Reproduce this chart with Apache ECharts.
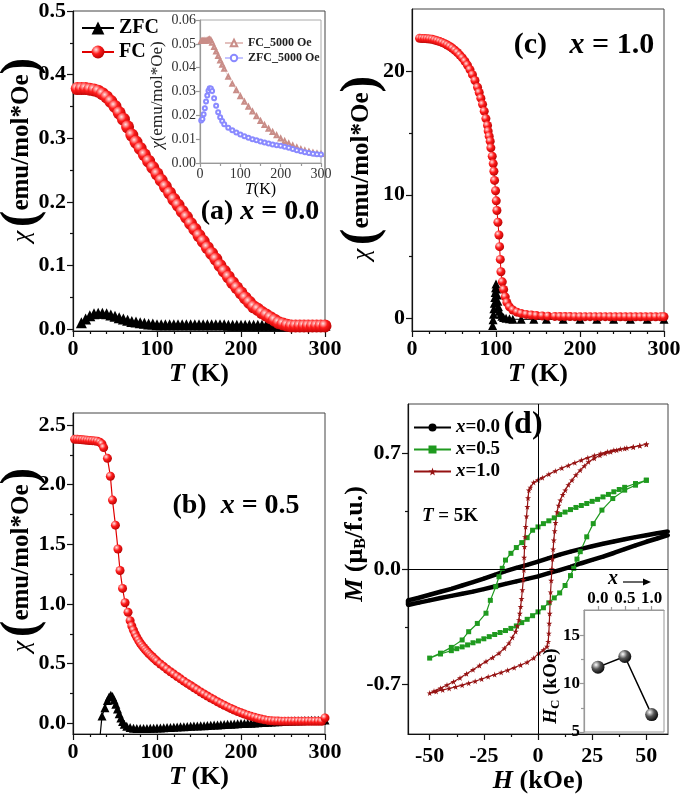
<!DOCTYPE html>
<html>
<head>
<meta charset="utf-8">
<script src="https://cdn.jsdelivr.net/npm/echarts@6.0.0/dist/echarts.min.js"></script>
<style>
  html, body { margin: 0; padding: 0; background: #fff; }
  #main { width: 685px; height: 795px; }
</style>
</head>
<body>
<div id="main"></div>
<script>
// ---- data ----
// (a) x = 0.0
const aT = [5,10,15,20,25,30,35,40,45,50,55,60,65,70,75,80,85,90,95,100,105,110,115,120,125,130,135,140,145,150,
            155,160,165,170,175,180,185,190,195,200,205,210,215,220,225,230,235,240,245,250,255,260,265,270,275,280,285,290,295,300];
const aFC = [0.378,0.378,0.378,0.377,0.376,0.374,0.370,0.365,0.358,0.350,0.340,0.330,0.318,0.305,0.294,0.284,0.274,0.264,0.254,0.244,
             0.234,0.224,0.214,0.204,0.195,0.185,0.176,0.166,0.157,0.147,0.138,0.128,0.119,0.110,0.100,0.091,0.082,0.073,0.065,0.057,
             0.049,0.042,0.035,0.031,0.026,0.022,0.018,0.014,0.010,0.008,0.006,0.005,0.005,0.005,0.005,0.005,0.005,0.005,0.005,0.005];
const aZT = aT.slice(1);
const aZFC = [0.010,0.016,0.021,0.024,0.025,0.025,0.024,0.022,0.020,0.018,0.016,0.014,0.012,0.011,0.010,0.009,0.008,0.008,0.007,0.007,
              0.007,0.007,0.007,0.007,0.007,0.007,0.007,0.007,0.007,0.007,0.007,0.007,0.007,0.007,0.007,0.006,0.006,0.006,0.006,0.006,
              0.006,0.006,0.006,0.006,0.006,0.006,0.006,0.006,0.006,0.006,0.006,0.006,0.006,0.006,0.006,0.006,0.006,0.006,0.006];

// (a) inset, 5000 Oe
const inT = [3,6,9,12,15,18,21,24,27,30,35,40,45,50,55,60,70,80,90,100,110,120,130,140,150,160,170,180,190,200,
             210,220,230,240,250,260,270,280,290,300];
const inFC = [0.0512,0.0512,0.0512,0.0513,0.0513,0.0514,0.0516,0.0518,0.0515,0.0505,0.0487,0.0468,0.0449,0.0430,0.0412,0.0395,
              0.0362,0.0332,0.0305,0.0280,0.0257,0.0236,0.0216,0.0196,0.0176,0.0159,0.0144,0.0130,0.0116,0.0103,
              0.0092,0.0082,0.0073,0.0065,0.0058,0.0052,0.0047,0.0043,0.0040,0.0038];
const inZFC = [0.0178,0.0185,0.0205,0.0230,0.0258,0.0283,0.0303,0.0314,0.0313,0.0302,0.0272,0.0240,0.0213,0.0192,0.0176,0.0163,
               0.0148,0.0137,0.0128,0.0120,0.0112,0.0106,0.0100,0.0095,0.0090,0.0086,0.0082,0.0078,0.0075,0.0072,
               0.0068,0.0064,0.0059,0.0054,0.0049,0.0045,0.0042,0.0039,0.0037,0.0036];

// (b) x = 0.5
const bFcT = [2,5,8,11,14,17,20,23,26,29,32,34.5,36.5,41,44.5,47,50.5,53.5,56,59,62,65.5,68,
              70,72,74,76,78,80,82,84,86,88,90,92,94,96,98,100,
              104,108,112,116,120,124,128,132,136,140,144,148,152,156,160,164,168,172,176,180,184,188,192,196,200,
              204,208,212,216,220,224,228,232,236,240,244,248,252,256,260,264,268,272,276,280,284,288,292,296,300];
const bFc = [2.38,2.38,2.378,2.376,2.374,2.372,2.37,2.368,2.366,2.363,2.355,2.34,2.31,2.22,2.07,1.87,1.66,1.46,1.28,1.13,1.01,0.93,0.86,
             0.815,0.78,0.748,0.72,0.695,0.673,0.653,0.635,0.618,0.602,0.587,0.573,0.559,0.546,0.533,0.52,
             0.497,0.475,0.453,0.432,0.412,0.392,0.372,0.353,0.334,0.316,0.298,0.28,0.262,0.245,0.228,0.212,0.196,0.18,0.165,0.151,
             0.137,0.124,0.111,0.099,0.088,0.077,0.067,0.058,0.05,0.042,0.035,0.029,0.024,0.021,0.019,0.018,0.017,0.017,0.017,0.017,
             0.017,0.017,0.017,0.017,0.017,0.017,0.017,0.017,0.017,0.045];
const bZT = [31,34.5,38,41,43,45,47,49,51,53,55,57,59,61,
             64,68,72,76,80,84,88,92,96,100,104,108,112,116,120,124,128,132,136,140,144,148,152,156,160,164,168,172,176,180,
             184,188,192,196,200,204,208,212,216,220,224,228,232,236,240,244,248,252,256,260,264,268,272,276,280,284,288,292,296,300];
const bZ = [-0.2,0.06,0.13,0.19,0.22,0.235,0.225,0.195,0.16,0.12,0.08,0.045,0.015,-0.008,
            -0.025,-0.036,-0.041,-0.043,-0.044,-0.044,-0.043,-0.042,-0.041,-0.04,-0.039,-0.037,-0.036,-0.035,-0.033,-0.032,-0.03,-0.029,-0.027,-0.026,
            -0.024,-0.023,-0.021,-0.02,-0.018,-0.017,-0.015,-0.014,-0.012,-0.011,-0.009,-0.008,-0.006,-0.005,-0.003,-0.002,0,0.001,0.003,0.004,
            0.006,0.007,0.009,0.01,0.012,0.013,0.015,0.016,0.018,0.019,0.02,0.021,0.022,0.023,0.024,0.025,0.025,0.026,0.026,0.027];

// (c) x = 1.0
const cFcT = [9,12,15,18,21,24,27,30,33,36,39,42,45,48,51,54,57,60,63,66,69,72,75,78,80,82,84,86,88,
              89.9,90.7,91.9,93.1,93.9,95.5,96.7,97.5,98.3,99.5,100.3,101.1,102.3,103.5,104.3,105.1,105.9,107.5,109.1,111,113,116,120,125,130,136,142,148,155,162,170,
              176,182,188,194,200,206,212,218,224,230,236,242,248,254,260,266,272,278,284,290,296,300];
const cFc = [22.63,22.62,22.61,22.6,22.58,22.55,22.5,22.44,22.37,22.29,22.2,22.09,21.97,21.83,21.67,21.49,21.28,21.05,20.78,20.47,20.11,19.7,19.23,18.68,
             18.26,17.8,17.3,16.75,16.15,
             15.6,15.14,14.73,14.33,13.79,13.11,12.52,11.9,11.16,10.32,9.51,8.73,7.78,6.75,5.81,4.78,3.78,2.97,2.35,1.76,1.3,0.95,0.7,0.52,0.42,0.34,0.29,0.25,0.22,0.2,0.18,
             0.17,0.17,0.17,0.16,0.16,0.16,0.16,0.16,0.16,0.16,0.15,0.15,0.15,0.15,0.15,0.15,0.15,0.15,0.15,0.15,0.15,0.15];
const cZT = [96,96.5,97,97.5,98,98.5,99,99.5,100,100.8,101.5,102.2,103,104,105.5,107,109,112,116,120,130,145,160,180,200,220,240,260,280,300];
const cZ = [-0.55,-0.1,0.35,0.8,1.25,1.7,2.1,2.5,2.8,2.4,1.9,1.4,0.95,0.6,0.35,0.2,0.1,0.03,-0.02,-0.05,-0.06,-0.06,-0.06,-0.06,-0.06,-0.06,-0.06,-0.06,-0.06,-0.06];

// (d) M(H) loops at 5 K, [H kOe, M muB/f.u.]
const loop00 = [[60,0.228],[55,0.217],[50,0.205],[45,0.193],[40,0.18],[35,0.167],[30,0.153],[25,0.138],[20,0.122],[15,0.105],[10,0.087],[5,0.066],
  [0,0.045],[-5,0.025],[-10,0.007],[-15,-0.013],[-20,-0.035],[-25,-0.058],[-30,-0.08],[-35,-0.1],[-40,-0.12],[-45,-0.138],[-50,-0.156],[-55,-0.174],[-60,-0.19],
  [-60,-0.218],[-55,-0.204],[-50,-0.19],[-45,-0.176],[-40,-0.163],[-35,-0.15],[-30,-0.137],[-25,-0.122],[-20,-0.106],[-15,-0.09],[-10,-0.075],[-5,-0.06],
  [0,-0.045],[5,-0.025],[10,-0.007],[15,0.013],[20,0.035],[25,0.055],[30,0.075],[35,0.097],[40,0.12],[45,0.143],[50,0.165],[55,0.185],[60,0.205]];
const loop05 = [[50,0.538],[45,0.518],[40,0.495],[37.5,0.482],[35,0.468],[32.5,0.452],[30,0.437],[27.5,0.422],[25,0.41],[22.5,0.397],[20,0.385],
  [17.5,0.373],[15,0.36],[12.5,0.345],[10,0.33],[7.5,0.31],[5,0.292],[2.5,0.275],[0,0.255],[-2.5,0.235],[-5,0.19],[-7.5,0.16],[-10,0.13],
  [-12.5,0.095],[-15,0.054],[-16.5,0.004],[-18,-0.047],[-19.5,-0.107],[-22,-0.19],[-24,-0.268],[-28,-0.33],[-32,-0.38],[-35,-0.43],[-40,-0.475],[-45,-0.51],[-50,-0.54],
  [-45,-0.515],[-40,-0.495],[-37.5,-0.483],[-35,-0.472],[-32.5,-0.46],[-30,-0.447],[-27.5,-0.436],[-25,-0.423],[-22.5,-0.41],[-20,-0.397],
  [-17.5,-0.385],[-15,-0.373],[-12.5,-0.36],[-10,-0.345],[-7.5,-0.325],[-5,-0.305],[-2.5,-0.283],[0,-0.26],[2.5,-0.235],[5,-0.205],[7.5,-0.175],
  [10,-0.145],[12.5,-0.1],[15,-0.04],[16.5,0.004],[18,0.06],[19.5,0.105],[22.5,0.195],[25.5,0.275],[29.5,0.357],[34.5,0.427],[40,0.478],[45,0.508],[50,0.538]];
const loop10 = [[50,0.756],[47,0.748],[44,0.74],[41,0.734],[38,0.727],[35,0.72],[32,0.711],[29,0.7],[26,0.688],[23,0.675],[20,0.66],[17,0.644],
  [14,0.628],[11,0.612],[8,0.594],[5,0.575],[2,0.553],[0,0.54],[-2,0.525],[-3.5,0.495],[-4.2,0.478],[-4.6,0.43],[-4.9,0.377],[-5.3,0.32],[-5.7,0.256],
  [-6,0.195],[-6.2,0.135],[-6.4,0.07],[-6.5,-0.006],[-6.8,-0.065],[-7.2,-0.127],[-7.6,-0.18],[-8,-0.228],[-8.4,-0.27],[-8.8,-0.308],[-9.5,-0.345],
  [-10.3,-0.379],[-11.8,-0.415],[-13.4,-0.449],[-15.5,-0.48],[-18,-0.51],[-21,-0.537],[-24,-0.56],[-27,-0.585],[-30,-0.61],[-33,-0.635],[-36,-0.66],
  [-39,-0.683],[-42,-0.703],[-45,-0.722],[-48,-0.74],[-50,-0.752],
  [-47,-0.742],[-44,-0.733],[-41,-0.724],[-38,-0.714],[-35,-0.704],[-32,-0.692],[-29,-0.68],[-26,-0.667],[-23,-0.653],[-20,-0.64],[-17,-0.627],
  [-14,-0.613],[-11,-0.598],[-8,-0.582],[-5,-0.565],[-2,-0.54],[0.4,-0.51],[2.5,-0.49],[4.2,-0.47],[4.7,-0.44],[5,-0.39],[5.2,-0.33],[5.4,-0.27],
  [5.6,-0.2],[5.8,-0.14],[6.1,-0.07],[6.4,0],[6.7,0.06],[7,0.12],[7.3,0.175],[7.7,0.23],[8.1,0.28],[8.8,0.346],[9.5,0.385],[10.3,0.417],[11.4,0.45],
  [12.6,0.478],[14,0.51],[15.7,0.538],[17.5,0.57],[19.5,0.599],[21.4,0.625],[23.3,0.649],[26,0.671],[28.6,0.689],[31,0.7],[33.5,0.71],[36.3,0.72],
  [40,0.73],[43.9,0.739],[47,0.747],[50,0.756]];

// (d) inset: coercive field vs x
const hcX = [0.0, 0.5, 1.0];
const hcY = [11.7, 12.8, 6.8];

// ---- chart ----
const SERIF = "'Liberation Serif', 'Times New Roman', serif";
const zip = (xs, ys) => xs.map((x, i) => [x, ys[i]]);
const sphere = (c0, c1, c2) => ({
  type: 'radial', x: 0.35, y: 0.32, r: 0.75,
  colorStops: [{offset: 0, color: c0}, {offset: 0.45, color: c1}, {offset: 1, color: c2}]
});
const redBall = sphere('#ffe4e4', '#ff1c1c', '#b00000');
const blackBall = sphere('#ffffff', '#555555', '#000000');
const STAR = 'path://M50,0 L61,35 L98,35 L68,57 L79,91 L50,70 L21,91 L32,57 L2,35 L39,35 Z';

function axisPair(dim, grid, min, max, major, minor, o) {
  o = o || {};
  const pos = o.position || (dim === 'x' ? 'bottom' : 'left');
  const lc = o.lineColor || '#111';
  const main = {
    type: 'value', gridIndex: grid, min: min, max: max, position: pos,
    axisLine: {show: true, onZero: false, lineStyle: {color: lc, width: 1.2}},
    axisTick: {show: true, customValues: major, length: o.tick || 6, lineStyle: {color: lc, width: 1.2}},
    axisLabel: {show: true, customValues: major, formatter: o.fmt, margin: o.margin || 7,
                fontFamily: SERIF, fontSize: o.fontSize || 22, fontWeight: o.weight || 'bold', color: o.labelColor || '#000'},
    splitLine: {show: false}
  };
  if (o.name) {
    const ns = o.nameSize || 26, nw = o.nameWeight || 'bold';
    main.name = o.name;
    main.nameLocation = 'middle';
    main.nameGap = o.nameGap;
    main.nameTextStyle = {fontFamily: SERIF, fontSize: ns, fontWeight: nw, color: '#000',
      rich: {i: {fontFamily: SERIF, fontSize: ns, fontWeight: nw, fontStyle: 'italic', color: '#000'}}};
  }
  const sub = {
    type: 'value', gridIndex: grid, min: min, max: max, position: pos,
    axisLine: {show: false, onZero: false},
    axisTick: {show: minor.length > 0, customValues: minor, length: o.minorTick || 3, lineStyle: {color: lc, width: 1.2}},
    axisLabel: {show: false}, splitLine: {show: false}
  };
  return [main, sub];
}

const f1 = v => v.toFixed(1);
const f2 = v => v.toFixed(2);
const insetA = {fontSize: 14, weight: 'normal', lineColor: '#999', labelColor: '#333', margin: 4, tick: 4};

const xAxes = [].concat(
  axisPair('x', 0, 0, 300, [0,100,200,300], [20,40,60,80,120,140,160,180,220,240,260,280], {name: '{i|T} (K)', nameGap: 24}),
  axisPair('x', 1, 0, 300, [0,100,200,300], [50,150,250],
           Object.assign({name: '{i|T}(K)', nameGap: 19, nameSize: 16, nameWeight: 'normal'}, insetA)),
  axisPair('x', 2, 0, 300, [0,100,200,300], [20,40,60,80,120,140,160,180,220,240,260,280], {name: '{i|T} (K)', nameGap: 24}),
  axisPair('x', 3, 0, 300, [0,100,200,300], [20,40,60,80,120,140,160,180,220,240,260,280], {name: '{i|T} (K)', nameGap: 27}),
  axisPair('x', 4, -60, 60, [-50,-25,0,25,50], [-37.5,-12.5,12.5,37.5], {name: '{i|H} (kOe)', nameGap: 31, margin: 11}),
  axisPair('x', 5, -0.26, 1.23, [0,0.5,1], [0.25,0.75], {position: 'top', fontSize: 17, fmt: f1, lineColor: '#999', margin: 3, tick: 4})
);
const yAxes = [].concat(
  axisPair('y', 0, -0.003, 0.5, [0,0.1,0.2,0.3,0.4,0.5], [0.05,0.15,0.25,0.35,0.45], {fmt: f1}),
  axisPair('y', 1, 0, 0.06, [0,0.01,0.02,0.03,0.04,0.05,0.06], [], Object.assign({fmt: f2}, insetA)),
  axisPair('y', 2, -1, 25, [0,10,20], [5,15], {}),
  axisPair('y', 3, -0.09, 2.6, [0,0.5,1,1.5,2,2.5], [0.25,0.75,1.25,1.75,2.25], {fmt: f1}),
  axisPair('y', 4, -1, 1, [-0.7,0,0.7], [-0.35,0.35], {fmt: f1}),
  axisPair('y', 5, 5, 17.6, [5,10,15], [7.5,12.5], {fontSize: 17, lineColor: '#999', margin: 4, tick: 4})
);

const frame = {show: true, borderColor: '#444', borderWidth: 1, backgroundColor: 'transparent'};
const grids = [
  Object.assign({left: 73, top: 9, width: 252, height: 322}, frame),
  {left: 200, top: 20, width: 121, height: 143, show: true, borderColor: '#aaa', borderWidth: 1},
  Object.assign({left: 412, top: 9, width: 252, height: 322}, frame),
  Object.assign({left: 73, top: 413, width: 252, height: 321}, frame),
  Object.assign({left: 408, top: 404, width: 260, height: 330}, frame),
  {left: 584, top: 610, width: 80, height: 122, show: true, borderColor: '#999', borderWidth: 1, backgroundColor: '#fff'}
];

function line(name, ax, data, sym, size, color, lineColor, width, extra) {
  return Object.assign({
    name: name, type: 'line', xAxisIndex: ax * 2, yAxisIndex: ax * 2, data: data,
    symbol: sym, symbolSize: size, showSymbol: true, showAllSymbol: true,
    itemStyle: {color: color}, lineStyle: {color: lineColor, width: width},
    emphasis: {disabled: true}, animation: false
  }, extra || {});
}

const series = [
  line('ZFC', 0, zip(aZT, aZFC), 'triangle', 11, '#000', '#000', 1.5),
  line('FC', 0, zip(aT, aFC), 'circle', 13, redBall, '#e00000', 1),
  line('FC_5000 Oe', 1, zip(inT, inFC), 'emptyTriangle', 4, '#c98d88', '#e3c0bd', 0.6, {itemStyle: {color: '#c98d88', borderWidth: 0.7}}),
  line('ZFC_5000 Oe', 1, zip(inT, inZFC), 'emptyCircle', 4, '#8a8aff', '#c4c4ff', 0.6, {itemStyle: {color: '#8a8aff', borderWidth: 0.7}}),
  line('ZFC c', 2, zip(cZT, cZ), 'triangle', 9, '#000', '#000', 1),
  line('FC c', 2, zip(cFcT, cFc), 'circle', 9, redBall, '#e00000', 1),
  line('ZFC b', 3, zip(bZT, bZ), 'triangle', 9, '#000', '#000', 1.2),
  line('FC b', 3, zip(bFcT, bFc), 'circle', 9, redBall, '#e00000', 1.2),
  line('x=0.0', 4, loop00, 'circle', 4, '#000', '#000', 4.5, {
    markLine: {silent: true, symbol: 'none', animation: false, label: {show: false},
               lineStyle: {color: '#000', width: 1, type: 'solid'}, emphasis: {disabled: true},
               data: [{yAxis: 0}, {xAxis: 0}]}
  }),
  line('x=0.5', 4, loop05, 'rect', 5, '#1f9a1f', '#1f9a1f', 1.2),
  line('x=1.0', 4, loop10, STAR, 6, '#951212', '#951212', 1.2),
  line('Hc', 5, zip(hcX, hcY), 'circle', 13, blackBall, '#000', 1.5)
];

const legends = [
  {left: 76, top: 13, orient: 'vertical', itemWidth: 32, itemHeight: 16, itemGap: 4, selectedMode: false,
   data: ['ZFC', 'FC'], textStyle: {fontFamily: SERIF, fontSize: 20, fontWeight: 'bold', color: '#000'}},
  {left: 219, top: 32, orient: 'vertical', itemWidth: 18, itemHeight: 8, itemGap: 3, selectedMode: false,
   data: ['FC_5000 Oe', 'ZFC_5000 Oe'], textStyle: {fontFamily: SERIF, fontSize: 12, fontWeight: 'bold', color: '#222'}},
  {left: 408, top: 413, orient: 'vertical', itemWidth: 37, itemHeight: 10, itemGap: 3, selectedMode: false,
   data: [{name: 'x=0.0', lineStyle: {width: 2}}, 'x=0.5', 'x=1.0'],
   formatter: n => '{i|x}{b|' + n.slice(1) + '}',
   textStyle: {fontFamily: SERIF, fontSize: 19, fontWeight: 'bold', color: '#000',
     rich: {i: {fontFamily: SERIF, fontSize: 19, fontWeight: 'bold', fontStyle: 'italic', color: '#000'},
            b: {fontFamily: SERIF, fontSize: 19, fontWeight: 'bold', color: '#000'}}}}
];

// text helpers
function tok(size, weight, style, extra) {
  return Object.assign({fontFamily: SERIF, fontSize: size, fontWeight: weight || 'normal', fontStyle: style || 'normal', fill: '#000'}, extra || {});
}
function txt(x, y, text, rich, rot) {
  return {type: 'text', x: x, y: y, rotation: rot || 0, silent: true, z: 100,
          style: {text: text, rich: rich, align: 'center', verticalAlign: 'middle', fill: '#000', fontFamily: SERIF, fontSize: 24, fontWeight: 'bold'}};
}
const chiRich = {c: tok(26, 'normal', 'italic'), p: tok(50, 'bold'), t: tok(25, 'bold'), s: tok(14)};
const chiName = '{c|χ}{s| }{p|(}{t|emu/mol*Oe}{p|)}';
const lab = s => ({b: tok(s, 'bold'), i: tok(s, 'bold', 'italic')});
const R = Math.PI / 2;

const graphics = [
  txt(22, 150, chiName, chiRich, R),
  txt(22, 560, chiName, chiRich, R),
  txt(362, 168, chiName, chiRich, R),
  txt(355, 544, '{i|M}{n| (μ}{sub|B}{n|/f.u.)}',
      {i: tok(26, 'bold', 'italic', {lineHeight: 28}), n: tok(26, 'bold', 'normal', {lineHeight: 28}),
       sub: tok(16, 'bold', 'normal', {verticalAlign: 'bottom', lineHeight: 18})}, R),
  txt(158, 95, '{i|χ}{n|(emu/mol*Oe)}', {i: tok(17, 'normal', 'italic', {fill: '#222'}), n: tok(17, 'normal', 'normal', {fill: '#222'})}, R),
  txt(551, 686, '{i|H}{sub|C}{n| (kOe)}',
      {i: tok(19, 'bold', 'italic', {lineHeight: 22}), n: tok(19, 'bold', 'normal', {lineHeight: 22}),
       sub: tok(13, 'bold', 'normal', {verticalAlign: 'bottom', lineHeight: 15})}, R),
  txt(260, 212, '{b|(a)}{b| }{i|x}{b| = 0.0}', lab(28)),
  txt(584, 45, '{b|(c)}{b|   }{i|x}{b| = 1.0}', lab(30)),
  txt(236, 506, '{b|(b)}{b|  }{i|x}{b| = 0.5}', lab(28)),
  txt(523, 425, '{b|(d)}', lab(32)),
  txt(450, 516, '{i|T}{b| = 5K}', lab(19)),
  txt(613, 579, '{i|x}', lab(20)),
  {type: 'line', silent: true, shape: {x1: 623, y1: 582, x2: 646, y2: 582}, style: {stroke: '#000', lineWidth: 1.2}},
  {type: 'polygon', silent: true, shape: {points: [[651, 582], [643, 578.5], [643, 585.5]]}, style: {fill: '#000'}}
];

const chart = echarts.init(document.getElementById('main'), null, {renderer: 'canvas'});
chart.setOption({
  backgroundColor: '#fff',
  animation: false,
  textStyle: {fontFamily: SERIF},
  grid: grids,
  xAxis: xAxes,
  yAxis: yAxes,
  legend: legends,
  series: series,
  graphic: graphics
});
window.addEventListener('resize', () => chart.resize());
</script>
</body>
</html>
